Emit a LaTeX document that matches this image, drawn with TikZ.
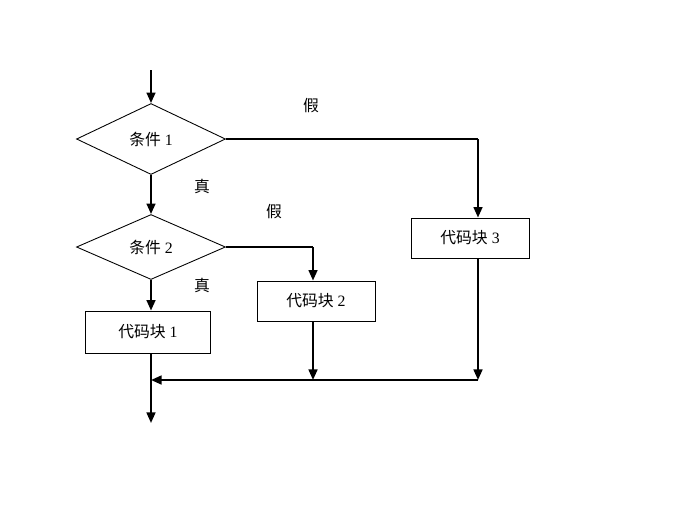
\documentclass[tikz,border=0pt]{standalone}
\usepackage{fontspec}
\setmainfont{Liberation Serif}
\newfontfamily\cjk{Noto Sans CJK SC}
\usetikzlibrary{shapes.geometric,arrows.meta}
\begin{document}
\begin{tikzpicture}[x=0.02cm, y=-0.02cm,
    every node/.style={font=\fontsize{9}{10}\selectfont},
    cond/.style={diamond, draw, line width=0.5pt, inner sep=0pt, minimum width=2.98cm, minimum height=1.3cm},
    block/.style={rectangle, draw, line width=0.5pt, minimum width=2.4cm, minimum height=0.82cm},
    flow/.style={-{Triangle[length=6pt,width=5pt]}, line width=1.2pt},
    side/.style={line width=0.6pt}]
    \useasboundingbox (0,0) rectangle (679,515);
    \coordinate (s) at (151,70);
    \node[cond, minimum height=1.42cm] (d1) at (151,139) {{\cjk 条件} 1};
    \node[cond] (d2) at (151,247) {{\cjk 条件} 2};
    \node[block, minimum width=2.5cm, minimum height=0.84cm] (b1) at (148,332) {{\cjk 代码块} 1};
    \node[block, minimum width=2.36cm, minimum height=0.8cm] (b2) at (316,301) {{\cjk 代码块} 2};
    \node[block, minimum width=2.36cm, minimum height=0.8cm] (b3) at (470,238) {{\cjk 代码块} 3};
    \node (f1) at (311,106) {\cjk 假};
    \node (t1) at (202,186) {\cjk 真};
    \node (f2) at (274,212) {\cjk 假};
    \node (t2) at (202,285) {\cjk 真};
    \coordinate (c1) at (478,139);
    \coordinate (c2) at (313,247);
    \coordinate (j) at (151,380);
    \coordinate (e) at (151,423);
    % main line
    \draw[flow] (s) -- (d1.north);
    \draw[flow] (d1.south) -- (d2.north);
    \draw[flow] (d2.south) -- (d2.south |- b1.north);
    \draw[flow] (d2.south |- b1.south) -- (e);
    % false branches
    \draw[side] (d1.east) -- (c1);
    \draw[flow] (c1) -- (c1 |- b3.north);
    \draw[side] (d2.east) -- (c2);
    \draw[flow] (c2) -- (c2 |- b2.north);
    % joining
    \draw[flow] (c1 |- b3.south) -- (c1 |- j);
    \draw[flow] (c2 |- b2.south) -- (c2 |- j);
    \draw[flow] (c1 |- j) -- (j);
\end{tikzpicture}
\end{document}
